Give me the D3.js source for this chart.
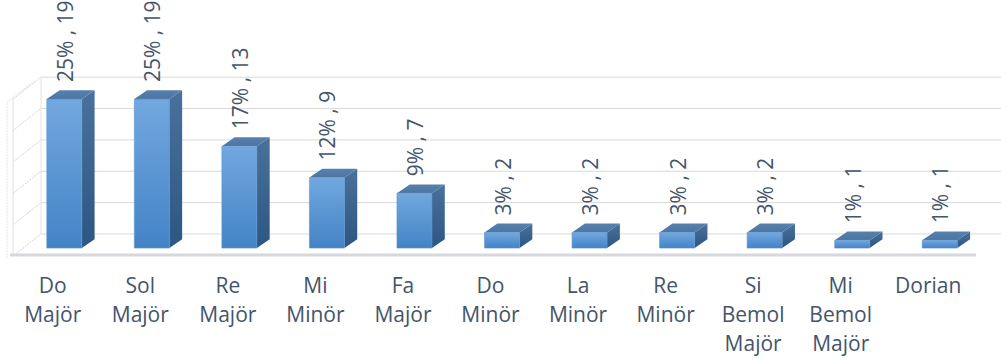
<!DOCTYPE html>
<html>
<head>
<meta charset="utf-8">
<script src="https://cdn.jsdelivr.net/npm/d3@7"></script>
<style>
  html, body { margin: 0; padding: 0; background: #ffffff; }
  svg { display: block; }
  text { font-family: "Open Sans", "Noto Sans", sans-serif; fill: #44546a; }
</style>
</head>
<body>
<svg id="chart" width="1001" height="362"></svg>
<script>
// Tonalities and how many pieces are written in each
const categories = ["Do Majör", "Sol Majör", "Re Majör", "Mi Minör", "Fa Majör",
                    "Do Minör", "La Minör", "Re Minör", "Si Bemol Majör", "Mi Bemol Majör", "Dorian"];
const counts   = [19, 19, 13, 9, 7, 2, 2, 2, 2, 1, 1];
const percents = [25, 25, 17, 12, 9, 3, 3, 3, 3, 1, 1];
const gridTicks = [0, 4, 8, 12, 16, 20];

const W = 1001, H = 362;
const svg = d3.select("#chart");

// Oblique 3D projection: depth z in [0,1] shifts right and up
const DX = 32, DY = 22;
const floorY = 256;
const x = d3.scaleBand().domain(categories).range([9, 972]).paddingInner(0.6).paddingOuter(0.3);
const y = d3.scaleLinear().domain([0, 20]).range([floorY, floorY - 20 * 7.84]);
const P = (px, v, z) => [px + z * DX, y(v) - z * DY];

const zFront = 0.36, zBack = 0.76;
const x0 = x.range()[0], x1 = x.range()[1];

const defs = svg.append("defs");
function vGrad(id, c0, c1) {
  const g = defs.append("linearGradient").attr("id", id).attr("x1", 0).attr("y1", 0).attr("x2", 0).attr("y2", 1);
  g.append("stop").attr("offset", "0%").attr("stop-color", c0);
  g.append("stop").attr("offset", "100%").attr("stop-color", c1);
}
vGrad("gFront", "#72a8df", "#4383c6");
vGrad("gSide", "#4a719b", "#2c5683");
vGrad("gTop", "#5880ae", "#4c75a2");

const line = d3.line();
const walls = svg.append("g").attr("fill", "none");

// back wall with horizontal gridlines
gridTicks.forEach(t => {
  walls.append("path").attr("d", line([P(x0, t, 1), P(x1 + 40, t, 1)]))
    .attr("stroke", "#d9d9d9").attr("stroke-width", 1);
});
walls.append("path").attr("d", line([P(x0, 0, 1), P(x0, 20, 1)]))
  .attr("stroke", "#e2e2e2").attr("stroke-width", 1);

// left side wall: gridlines run from front edge to back wall
gridTicks.forEach(t => {
  walls.append("path").attr("d", line([P(x0 + 4, t, 0), P(x0, t, 1)]))
    .attr("stroke", "#d4d4d4").attr("stroke-width", 1).attr("stroke-dasharray", "2,1");
});
walls.append("path").attr("d", line([P(x0 + 4, 0, 0), P(x0 + 4, 20, 0)]))
  .attr("stroke", "#e0e0e0").attr("stroke-width", 1);
walls.append("path").attr("d", line([P(x0 - 2, -0.3, 0), P(x0 - 2, 19.6, 0), P(x0 - 6, 19.6, 1)]))
  .attr("stroke", "#e3e3e3").attr("stroke-width", 1).attr("stroke-dasharray", "2,1");

// floor front edge
svg.append("path").attr("d", line([[x0 + 1, floorY - 1], [x1 + 4, floorY - 1]]))
  .attr("stroke", "#d6d8dd").attr("stroke-width", 3).attr("fill", "none");

// bars
const bars = svg.append("g").selectAll("g").data(categories).join("g");
bars.each(function(c, i) {
  const g = d3.select(this);
  const v = counts[i];
  const L = x(c), R = x(c) + x.bandwidth();
  const fTL = P(L, v, zFront), fTR = P(R, v, zFront), fBR = P(R, 0, zFront), fBL = P(L, 0, zFront);
  const bTL = P(L, v, zBack), bTR = P(R, v, zBack), bBR = P(R, 0, zBack);
  g.append("path").attr("d", line([fTR, bTR, bBR, fBR]) + "Z").attr("fill", "url(#gSide)");
  g.append("path").attr("d", line([fTL, fTR, bTR, bTL]) + "Z").attr("fill", "url(#gTop)");
  g.append("path").attr("d", line([fTL, fTR, fBR, fBL]) + "Z").attr("fill", "url(#gFront)")
    .attr("stroke", "#5d93cf").attr("stroke-width", 0.6);

  // value label, rotated, reading upward
  const lx = (fTL[0] + fTR[0]) / 2 + 1;
  const ly = fTL[1] - 17;
  g.append("text")
    .attr("transform", `translate(${lx},${ly}) rotate(-90)`)
    .attr("dy", "0.36em")
    .attr("text-anchor", "start")
    .style("font-size", "21px")
    .text(`${percents[i]}% , ${counts[i]}`);
});

// category labels, one word per line
const labels = svg.append("g").selectAll("text").data(categories).join("text")
  .attr("x", c => x(c) + x.bandwidth() / 2)
  .attr("y", 293)
  .attr("text-anchor", "middle")
  .style("font-size", "21px");
labels.each(function(c) {
  const t = d3.select(this);
  c.split(" ").forEach((w, k) => {
    t.append("tspan").attr("x", x(c) + x.bandwidth() / 2).attr("y", 293 + k * 29).text(w);
  });
});
</script>
</body>
</html>
